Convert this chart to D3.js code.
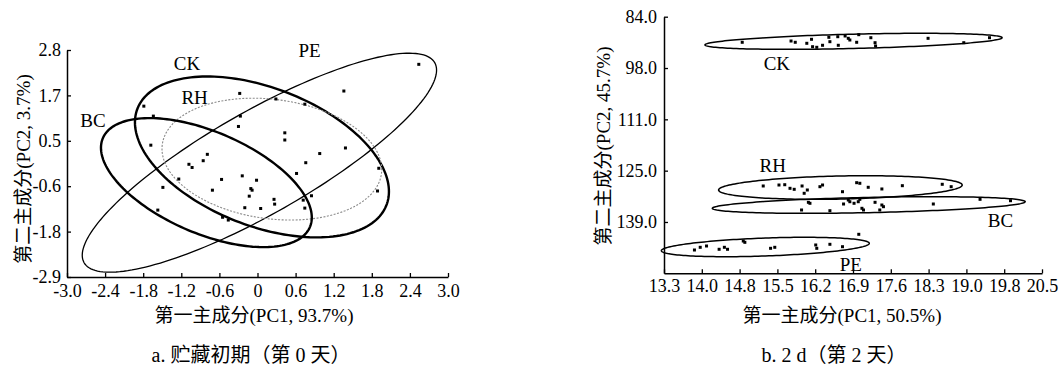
<!DOCTYPE html>
<html>
<head>
<meta charset="utf-8">
<script src="https://cdn.jsdelivr.net/npm/d3@7"></script>
<style>
  body { margin: 0; background: #fff; }
  svg { display: block; }
  .tick text { font-family: 'Liberation Serif', 'Times New Roman', serif; font-size: 18px; fill: #000; }
  .lbl { font-family: 'Liberation Serif', 'Times New Roman', serif; font-size: 19px; fill: #000; }
  .ttl { font-family: 'Liberation Serif', 'Noto Sans CJK SC', serif; font-size: 19px; fill: #000; }
  .cap { font-family: 'Liberation Serif', 'Noto Sans CJK SC', serif; font-size: 20px; fill: #000; }
</style>
</head>
<body>
<div id="chart"></div>
<script>
// ---------------------------------------------------------
// DATA  (in data units)
// ---------------------------------------------------------

// panel a: day 0
const yTickLabelsA = ["-2.9", "-1.8", "-0.6", "0.5", "1.7", "2.8"];
const xTickLabelsA = ["-3.0", "-2.4", "-1.8", "-1.2", "-0.6", "0", "0.6", "1.2", "1.8", "2.4", "3.0"];

// ellipse: centre, spread in x, spread in y, correlation
const ellipsesA = [
  { name: "PE", cx: 0.03,  cy: -0.03, sx: 2.79, sy: 2.75, r: 0.845 },
  { name: "CK", cx: 0.07,  cy: 0.115, sx: 2.00, sy: 2.02, r: -0.43 },
  { name: "RH", cx: 0.226, cy: 0.06,  sx: 1.73, sy: 1.53, r: -0.17 },
  { name: "BC", cx: -0.805, cy: -0.53, sx: 1.66, sy: 1.62, r: -0.54 }
];

const labelsA = [
  { name: "PE", x: 0.82,  y: 2.78 },
  { name: "CK", x: -1.11, y: 2.47 },
  { name: "RH", x: -0.99, y: 1.62 },
  { name: "BC", x: -2.59, y: 1.04 }
];

const pointsA = [
  [2.54, 2.44], [1.36, 1.77], [-0.28, 1.71], [0.29, 1.57], [0.745, 1.44],
  [-1.79, 1.39], [-1.64, 1.14], [-0.27, 1.14], [-0.30, 0.88], [0.43, 0.72],
  [0.43, 0.54], [-1.68, 0.41], [1.385, 0.34], [0.98, 0.20], [-0.79, 0.18],
  [-0.855, 0.02], [0.76, -0.03], [-1.08, -0.07], [-1.03, -0.15], [1.91, -0.17],
  [0.615, -0.30], [-0.24, -0.36], [-1.24, -0.44], [-0.566, -0.45], [-0.015, -0.47],
  [-0.105, -0.68], [-0.085, -0.72], [-1.49, -0.65], [-0.71, -0.72], [1.89, -0.74],
  [0.85, -0.86], [-0.13, -0.87], [0.26, -0.95], [0.27, -1.07], [0.72, -0.97],
  [0.745, -1.17], [-0.20, -1.16], [0.05, -1.18], [-1.57, -1.22], [-0.46, -1.47],
  [-0.55, -1.40]
];

// panel b: day 2
const yTickLabelsB = ["84.0", "98.0", "111.0", "125.0", "139.0"];
const xTickLabelsB = ["13.3", "14.0", "14.8", "15.5", "16.2", "16.9", "17.6", "18.3", "19.0", "19.8", "20.5"];

const ellipsesB = [
  { name: "CK", cx: 16.91, cy: 90.57,  sx: 2.83, sy: 2.14, r: -0.45 },
  { name: "RH", cx: 16.66, cy: 129.6,  sx: 2.32, sy: 3.15, r: -0.21 },
  { name: "BC", cx: 17.20, cy: 134.27, sx: 2.98, sy: 2.22, r: -0.40 },
  { name: "PE", cx: 15.23, cy: 145.48, sx: 1.98, sy: 2.59, r: -0.38 }
];

const labelsB = [
  { name: "CK", x: 15.45, y: 96.44 },
  { name: "RH", x: 15.37, y: 123.78 },
  { name: "BC", x: 19.71, y: 138.46 },
  { name: "PE", x: 16.86, y: 150.1 }
];

const pointsB = [
  // CK
  [14.79, 90.83], [15.72, 90.49], [15.80, 90.83], [16.02, 91.1], [16.11, 90.03],
  [16.13, 92.01], [16.21, 92.17], [16.32, 91.63], [16.44, 89.5], [16.46, 90.67],
  [16.61, 89.34], [16.62, 91.63], [16.75, 89.15], [16.81, 89.77], [16.84, 90.22],
  [16.97, 90.83], [17.01, 88.8], [17.24, 89.61], [17.32, 90.94], [17.33, 91.82],
  [18.33, 89.77], [19.01, 90.94], [19.5, 89.61],
  // RH
  [15.19, 129.19], [15.49, 128.93], [15.6, 128.85], [15.7, 129.81], [15.78, 130.08],
  [15.93, 129.19], [15.97, 131.14], [16.03, 130.26], [16.27, 129.38], [16.32, 128.93],
  [16.70, 130.72], [16.97, 128.31], [17.03, 128.47], [17.19, 129.54], [17.45, 129.99],
  [17.84, 129.11], [18.6, 128.74], [18.77, 129.38],
  // BC
  [15.92, 135.6], [16.05, 133.55], [16.08, 133.81], [16.46, 135.79], [16.72, 134.0],
  [16.81, 132.93], [16.84, 133.39], [16.92, 133.81], [17.0, 133.39], [17.03, 132.75],
  [17.07, 135.15], [17.1, 135.6], [17.32, 133.55], [17.45, 134.27], [17.48, 134.72],
  [17.41, 135.6], [18.43, 134.0], [19.32, 132.75], [19.9, 133.12],
  // PE
  [13.88, 146.28], [13.99, 145.56], [14.11, 145.21], [14.35, 146.09], [14.45, 145.56],
  [14.51, 146.09], [14.81, 143.88], [14.84, 144.23], [15.33, 145.83], [15.41, 145.56],
  [16.19, 144.94], [16.21, 145.83], [16.46, 144.76], [16.70, 145.4], [17.01, 142.09]
];

// ---------------------------------------------------------
// SETUP
// ---------------------------------------------------------
const width = 1059;
const height = 370;

const svg = d3.select("#chart")
  .append("svg")
  .attr("width", width)
  .attr("height", height);

svg.append("rect").attr("width", width).attr("height", height).attr("fill", "#fff");

const styleA = {
  PE: { w: 1.3, c: "#000", dash: null },
  CK: { w: 2.4, c: "#000", dash: null },
  RH: { w: 1.1, c: "#8a8a8a", dash: "2,1.5" },
  BC: { w: 2.4, c: "#000", dash: null }
};

// evenly spaced tick positions between the domain ends, labelled from the arrays
function evenTicks(domain, n) {
  return d3.range(n).map(i => domain[0] + i * (domain[1] - domain[0]) / (n - 1));
}

function ellipsePath(e, x, y) {
  const k = Math.sqrt(1 - e.r * e.r);
  const pts = d3.range(0, 361, 2).map(a => {
    const t = a * Math.PI / 180;
    return [e.cx + e.sx * Math.cos(t), e.cy + e.sy * (e.r * Math.cos(t) + k * Math.sin(t))];
  });
  return d3.line().x(d => x(d[0])).y(d => y(d[1])).curve(d3.curveLinearClosed)(pts);
}

function drawPanel(opt) {
  const g = svg.append("g");
  const x = d3.scaleLinear().domain(opt.xDomain).range(opt.xRange);
  const y = d3.scaleLinear().domain(opt.yDomain).range(opt.yRange);
  const bottom = Math.max(...opt.yRange);

  // y axis
  const yTicks = evenTicks(opt.yTickDomain, opt.yLabels.length);
  g.append("g")
    .attr("transform", `translate(${opt.xRange[0]},0)`)
    .call(d3.axisLeft(y).tickValues(yTicks)
      .tickFormat((d, i) => opt.yLabels[i])
      .tickSizeInner(-4).tickSizeOuter(0).tickPadding(opt.yPad));

  // x axis
  const xTicks = evenTicks(opt.xDomain, opt.xLabels.length);
  g.append("g")
    .attr("transform", `translate(0,${bottom})`)
    .call(d3.axisBottom(x).tickValues(xTicks)
      .tickFormat((d, i) => opt.xLabels[i])
      .tickSizeInner(-4).tickSizeOuter(0).tickPadding(opt.xPad));

  g.selectAll(".domain").attr("stroke", "#000").attr("stroke-width", 1.5);
  g.selectAll(".tick line").attr("stroke", "#000").attr("stroke-width", 1.3);

  // ellipses
  g.selectAll("path.ell")
    .data(opt.ellipses)
    .enter()
    .append("path")
    .attr("class", "ell")
    .attr("d", d => ellipsePath(d, x, y))
    .attr("fill", "none")
    .attr("stroke", d => opt.style(d.name).c)
    .attr("stroke-width", d => opt.style(d.name).w)
    .attr("stroke-dasharray", d => opt.style(d.name).dash);

  // points
  g.selectAll("rect.pt")
    .data(opt.points)
    .enter()
    .append("rect")
    .attr("class", "pt")
    .attr("x", d => x(d[0]) - 1.5)
    .attr("y", d => y(d[1]) - 1.5)
    .attr("width", 3)
    .attr("height", 3)
    .attr("fill", "#000");

  // group labels
  g.selectAll("text.lbl")
    .data(opt.labels)
    .enter()
    .append("text")
    .attr("class", "lbl")
    .attr("x", d => x(d.x))
    .attr("y", d => y(d.y))
    .attr("dy", "0.35em")
    .attr("text-anchor", "middle")
    .text(d => d.name);

  // axis titles
  g.append("text")
    .attr("class", "ttl")
    .attr("text-anchor", "middle")
    .attr("transform", `translate(${opt.yTitlePos[0]},${opt.yTitlePos[1]}) rotate(-90)`)
    .attr("dy", "0.35em")
    .text(opt.yTitle);

  g.append("text")
    .attr("class", "ttl")
    .attr("text-anchor", "middle")
    .attr("x", opt.xTitlePos[0])
    .attr("y", opt.xTitlePos[1])
    .attr("dy", "0.35em")
    .text(opt.xTitle);

  g.append("text")
    .attr("class", "cap")
    .attr("text-anchor", "middle")
    .attr("x", opt.capPos[0])
    .attr("y", opt.capPos[1])
    .attr("dy", "0.35em")
    .text(opt.caption);
}

// ---------------------------------------------------------
// DRAW
// ---------------------------------------------------------
drawPanel({
  xDomain: [-3, 3], xRange: [67, 448],
  yDomain: [-2.9, 2.8], yRange: [277, 50],
  yTickDomain: [-2.9, 2.8],
  xLabels: xTickLabelsA, yLabels: yTickLabelsA,
  xPad: 7, yPad: 6,
  ellipses: ellipsesA, points: pointsA, labels: labelsA,
  style: n => styleA[n],
  yTitle: "第二主成分(PC2, 3.7%)", yTitlePos: [23, 169],
  xTitle: "第一主成分(PC1, 93.7%)", xTitlePos: [254, 315],
  caption: "a. 贮藏初期（第 0 天）", capPos: [251, 355]
});

drawPanel({
  xDomain: [13.3, 20.5], xRange: [664, 1042],
  yDomain: [84, 152.5], yRange: [16.7, 273.3],
  yTickDomain: [84, 138.8],
  xLabels: xTickLabelsB, yLabels: yTickLabelsB,
  xPad: 6, yPad: 7,
  ellipses: ellipsesB, points: pointsB, labels: labelsB,
  style: () => ({ w: 1.5, c: "#000", dash: null }),
  yTitle: "第二主成分(PC2, 45.7%)", yTitlePos: [603, 146],
  xTitle: "第一主成分(PC1, 50.5%)", xTitlePos: [842, 315],
  caption: "b. 2 d（第 2 天）", capPos: [834, 355]
});
</script>
</body>
</html>
